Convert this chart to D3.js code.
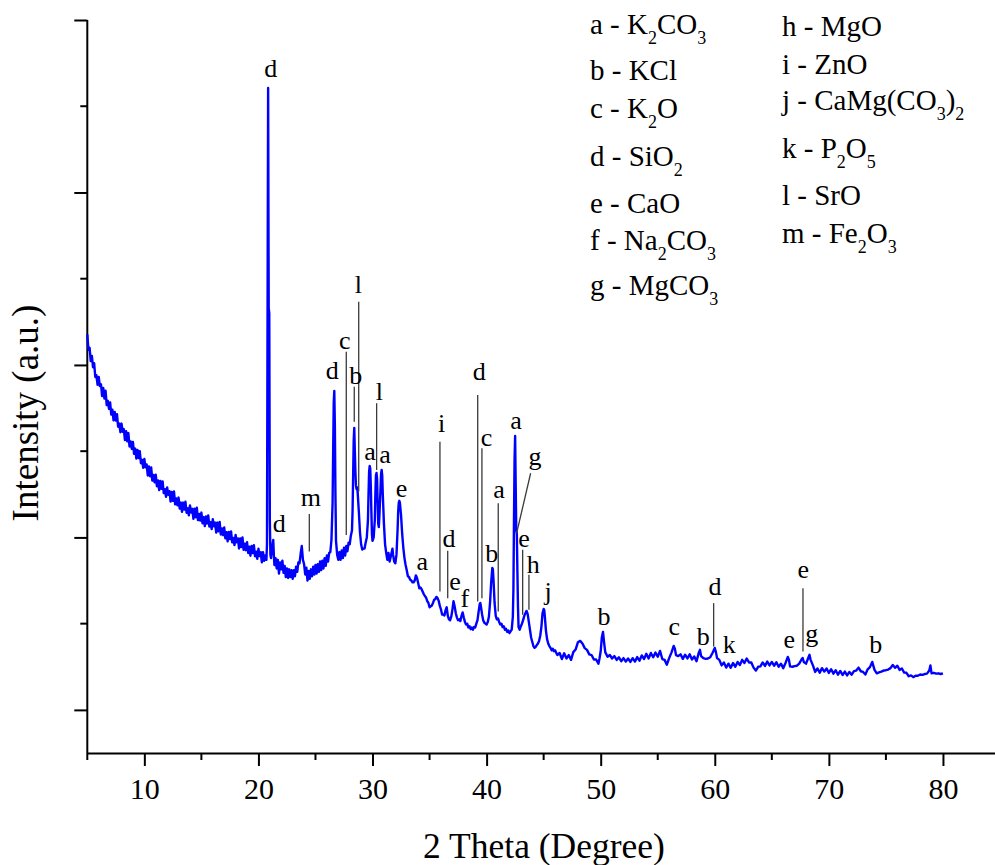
<!DOCTYPE html>
<html lang="en">

<head>
	<meta charset="utf-8">
	<script src="https://d3js.org/d3.v7.min.js"></script>
	<style>
		body {
			margin: 0;
			background-color: white;
		}

		svg {
			display: block;
			font-family: 'Times New Roman', 'Liberation Serif', serif;
		}

		.axis path,
		.axis line {
			stroke: black;
			stroke-width: 2px;
		}

		.axis text {
			font-size: 30px;
			fill: black;
		}

		.pattern {
			fill: none;
			stroke: #0000ff;
			stroke-width: 2.4px;
			stroke-linejoin: round;
		}

		.peak-label {
			font-size: 26px;
			fill: black;
			text-anchor: middle;
		}

		.peak-line {
			stroke: #3a3a3a;
			stroke-width: 1.3px;
		}

		.legend text {
			font-size: 29px;
			fill: black;
		}
	</style>
</head>

<body>
	<svg width="995" height="865"></svg>
	<script>
		// XRD pattern: [2 theta, intensity a.u.]
		const pattern = [
			[5.0, 2178], [5.1, 2088], [5.2, 2100], [5.3, 2022], [5.4, 2052], [5.5, 1987], [5.6, 2010], [5.7, 1930], [5.8, 1940], [5.9, 1885],
			[6.0, 1930], [6.1, 1877], [6.2, 1888], [6.3, 1819], [6.4, 1866], [6.5, 1805], [6.6, 1850], [6.7, 1767], [6.8, 1792], [6.9, 1745],
			[7.0, 1783], [7.1, 1712], [7.2, 1740], [7.3, 1679], [7.4, 1727], [7.5, 1677], [7.6, 1715], [7.7, 1642], [7.8, 1660], [7.9, 1610],
			[8.0, 1660], [8.1, 1612], [8.2, 1628], [8.3, 1564], [8.4, 1616], [8.5, 1557], [8.6, 1605], [8.7, 1527], [8.8, 1557], [8.9, 1513],
			[9.0, 1553], [9.1, 1485], [9.2, 1515], [9.3, 1457], [9.4, 1507], [9.5, 1460], [9.6, 1500], [9.7, 1430], [9.8, 1450], [9.9, 1403],
			[10.0, 1455], [10.1, 1407], [10.2, 1423], [10.3, 1359], [10.4, 1411], [10.5, 1355], [10.6, 1405], [10.7, 1329], [10.8, 1362], [10.9, 1320],
			[11.0, 1363], [11.1, 1297], [11.2, 1330], [11.3, 1274], [11.4, 1327], [11.5, 1282], [11.6, 1325], [11.7, 1257], [11.8, 1280], [11.9, 1235],
			[12.0, 1290], [12.1, 1247], [12.2, 1268], [12.3, 1208], [12.4, 1264], [12.5, 1212], [12.6, 1266], [12.7, 1192], [12.8, 1226], [12.9, 1186],
			[13.0, 1231], [13.1, 1167], [13.2, 1202], [13.3, 1148], [13.4, 1202], [13.5, 1161], [13.6, 1207], [13.7, 1143], [13.8, 1169], [13.9, 1128],
			[14.0, 1186], [14.1, 1144], [14.2, 1166], [14.3, 1108], [14.4, 1166], [14.5, 1116], [14.6, 1172], [14.7, 1100], [14.8, 1136], [14.9, 1098],
			[15.0, 1144], [15.1, 1082], [15.2, 1118], [15.3, 1066], [15.4, 1122], [15.5, 1081], [15.6, 1127], [15.7, 1063], [15.8, 1089], [15.9, 1048],
			[16.0, 1106], [16.1, 1064], [16.2, 1086], [16.3, 1028], [16.4, 1086], [16.5, 1035], [16.6, 1090], [16.7, 1017], [16.8, 1052], [16.9, 1013],
			[17.0, 1058], [17.1, 995], [17.2, 1030], [17.3, 977], [17.4, 1032], [17.5, 990], [17.6, 1035], [17.7, 971], [17.8, 997], [17.9, 956],
			[18.0, 1014], [18.1, 972], [18.2, 994], [18.3, 936], [18.4, 994], [18.5, 944], [18.6, 1000], [18.7, 928], [18.8, 964], [18.9, 926],
			[19.0, 972], [19.1, 910], [19.2, 946], [19.3, 894], [19.4, 950], [19.5, 909], [19.6, 955], [19.7, 891], [19.8, 917], [19.9, 876],
			[20.0, 934], [20.1, 892], [20.2, 914], [20.3, 856], [20.4, 914], [20.5, 864], [20.6, 895], [20.7, 870], [20.75, 960], [20.8, 2300],
			[20.85, 3606], [20.9, 2330], [20.95, 2300], [21.0, 1100], [21.05, 900], [21.1, 880], [21.2, 940], [21.3, 985], [21.35, 900], [21.4, 840],
			[21.5, 880], [21.6, 820], [21.7, 870], [21.8, 790], [21.9, 855], [22.0, 815], [22.1, 865], [22.2, 795], [22.3, 835], [22.4, 770],
			[22.5, 820], [22.6, 765], [22.7, 815], [22.8, 770], [22.9, 810], [23.0, 760], [23.1, 810], [23.2, 775], [23.3, 830], [23.4, 800],
			[23.5, 855], [23.6, 850], [23.7, 905], [23.8, 950], [23.9, 870], [24.0, 845], [24.1, 785], [24.2, 825], [24.3, 750], [24.4, 805],
			[24.5, 760], [24.6, 815], [24.7, 775], [24.8, 830], [24.9, 785], [25.0, 840], [25.1, 790], [25.2, 845], [25.3, 800], [25.4, 860],
			[25.5, 810], [25.6, 865], [25.7, 820], [25.8, 880], [25.9, 835], [26.0, 895], [26.1, 860], [26.2, 910], [26.3, 915], [26.4, 985],
			[26.5, 1200], [26.55, 1500], [26.6, 1780], [26.65, 1849], [26.7, 1650], [26.75, 1250], [26.8, 980], [26.9, 900], [27.0, 870], [27.1, 915],
			[27.2, 870], [27.3, 925], [27.4, 880], [27.5, 940], [27.6, 895], [27.7, 950], [27.8, 920], [27.9, 970], [28.0, 960], [28.1, 1010],
			[28.2, 1040], [28.25, 1150], [28.3, 1350], [28.35, 1560], [28.4, 1635], [28.45, 1500], [28.5, 1380], [28.55, 1300], [28.6, 1280], [28.65, 1290],
			[28.7, 1260], [28.8, 1150], [28.9, 1030], [29.0, 960], [29.1, 930], [29.2, 935], [29.3, 935], [29.4, 970], [29.5, 1000], [29.6, 1100],
			[29.65, 1250], [29.7, 1380], [29.75, 1414], [29.8, 1400], [29.85, 1300], [29.9, 1150], [29.95, 1020], [30.0, 980], [30.1, 1000], [30.2, 1100],
			[30.25, 1250], [30.3, 1360], [30.35, 1374], [30.4, 1340], [30.45, 1200], [30.5, 1080], [30.55, 1060], [30.6, 1120], [30.7, 1280], [30.75, 1370],
			[30.8, 1391], [30.85, 1360], [30.9, 1250], [31.0, 1080], [31.1, 960], [31.2, 910], [31.3, 870], [31.4, 910], [31.5, 860], [31.6, 890],
			[31.7, 920], [31.75, 935], [31.8, 900], [31.9, 860], [32.0, 850], [32.1, 900], [32.2, 1050], [32.25, 1150], [32.3, 1200], [32.35, 1212],
			[32.4, 1200], [32.5, 1130], [32.6, 1020], [32.7, 940], [32.8, 880], [32.9, 840], [33.0, 810], [33.1, 775], [33.2, 770], [33.3, 755],
			[33.4, 750], [33.5, 740], [33.6, 740], [33.7, 750], [33.8, 780], [33.9, 765], [34.0, 735], [34.1, 705], [34.2, 710], [34.3, 700],
			[34.4, 685], [34.5, 670], [34.6, 660], [34.7, 650], [34.8, 630], [34.9, 620], [35.0, 595], [35.1, 600], [35.2, 605], [35.3, 620],
			[35.4, 638], [35.5, 642], [35.6, 655], [35.7, 648], [35.8, 632], [35.9, 603], [36.0, 582], [36.1, 553], [36.2, 552], [36.3, 548],
			[36.4, 577], [36.5, 595], [36.6, 545], [36.7, 525], [36.8, 520], [36.9, 540], [37.0, 580], [37.1, 630], [37.2, 600], [37.3, 560],
			[37.4, 535], [37.5, 520], [37.6, 525], [37.7, 515], [37.8, 545], [37.9, 565], [38.0, 535], [38.1, 510], [38.2, 495], [38.3, 500],
			[38.4, 478], [38.5, 485], [38.6, 468], [38.7, 478], [38.8, 465], [38.9, 480], [39.0, 478], [39.1, 500], [39.2, 520], [39.3, 570],
			[39.4, 615], [39.45, 620], [39.5, 600], [39.6, 555], [39.7, 520], [39.8, 505], [39.9, 500], [40.0, 495], [40.1, 510], [40.2, 540],
			[40.3, 620], [40.4, 740], [40.5, 823], [40.55, 815], [40.6, 760], [40.7, 620], [40.8, 545], [40.9, 525], [41.0, 530], [41.1, 510],
			[41.2, 495], [41.3, 500], [41.4, 480], [41.5, 485], [41.6, 465], [41.7, 470], [41.8, 452], [41.9, 460], [42.0, 445], [42.1, 455],
			[42.2, 465], [42.3, 540], [42.35, 700], [42.4, 1100], [42.45, 1450], [42.5, 1588], [42.55, 1300], [42.6, 1040], [42.65, 1020], [42.7, 800],
			[42.75, 600], [42.8, 480], [42.9, 465], [43.0, 485], [43.1, 500], [43.2, 520], [43.3, 545], [43.4, 560], [43.5, 574], [43.6, 555],
			[43.7, 510], [43.8, 465], [43.9, 420], [44.0, 395], [44.1, 370], [44.2, 360], [44.3, 365], [44.4, 375], [44.5, 385], [44.6, 400],
			[44.7, 430], [44.8, 480], [44.9, 560], [45.0, 585], [45.05, 580], [45.1, 545], [45.2, 460], [45.3, 410], [45.4, 385], [45.5, 370],
			[45.6, 360], [45.7, 345], [45.8, 355], [45.9, 340], [46.0, 345], [46.2, 318], [46.4, 330], [46.6, 295], [46.8, 328], [47.0, 298],
			[47.2, 318], [47.4, 290], [47.6, 335], [47.8, 350], [48.0, 392], [48.2, 400], [48.4, 385], [48.6, 358], [48.8, 348], [49.0, 322],
			[49.2, 318], [49.4, 292], [49.6, 292], [49.8, 268], [49.9, 300], [50.0, 340], [50.1, 420], [50.2, 452], [50.3, 390], [50.4, 335],
			[50.6, 308], [50.8, 318], [51.0, 298], [51.2, 312], [51.4, 290], [51.6, 305], [51.8, 282], [52.0, 300], [52.2, 280], [52.4, 298],
			[52.6, 278], [52.8, 300], [53.0, 280], [53.2, 306], [53.4, 285], [53.6, 316], [53.8, 295], [54.0, 325], [54.2, 298], [54.4, 330],
			[54.6, 305], [54.8, 332], [55.0, 308], [55.2, 342], [55.4, 295], [55.6, 290], [55.8, 262], [56.0, 300], [56.2, 332], [56.4, 371],
			[56.5, 355], [56.6, 318], [56.8, 312], [57.0, 322], [57.2, 296], [57.4, 320], [57.6, 298], [57.8, 322], [58.0, 292], [58.2, 310],
			[58.4, 282], [58.6, 332], [58.7, 348], [58.8, 312], [59.0, 300], [59.2, 296], [59.4, 298], [59.6, 305], [59.8, 330], [60.0, 359],
			[60.1, 335], [60.2, 300], [60.4, 290], [60.6, 258], [60.8, 275], [61.0, 245], [61.2, 268], [61.4, 244], [61.6, 272], [61.8, 250],
			[62.0, 278], [62.2, 260], [62.4, 290], [62.6, 272], [62.8, 298], [63.0, 275], [63.2, 275], [63.4, 245], [63.6, 228], [63.8, 250],
			[64.0, 252], [64.2, 275], [64.4, 255], [64.6, 280], [64.8, 258], [65.0, 278], [65.2, 256], [65.4, 276], [65.6, 250], [65.8, 268],
			[66.0, 242], [66.2, 272], [66.4, 307], [66.5, 290], [66.6, 252], [66.8, 250], [67.0, 254], [67.2, 256], [67.4, 268], [67.6, 292],
			[67.7, 301], [67.8, 278], [68.0, 268], [68.2, 302], [68.3, 319], [68.4, 290], [68.6, 258], [68.8, 220], [69.0, 240], [69.2, 216],
			[69.4, 242], [69.6, 222], [69.8, 240], [70.0, 214], [70.2, 236], [70.4, 210], [70.6, 230], [70.8, 204], [71.0, 226], [71.2, 202],
			[71.4, 222], [71.6, 200], [71.8, 220], [72.0, 204], [72.2, 225], [72.4, 228], [72.6, 245], [72.8, 224], [73.0, 220], [73.2, 205],
			[73.4, 235], [73.6, 248], [73.8, 278], [73.9, 255], [74.0, 232], [74.2, 212], [74.4, 218], [74.6, 222], [74.8, 228], [75.0, 230],
			[75.2, 234], [75.4, 242], [75.6, 260], [75.8, 244], [76.0, 256], [76.2, 232], [76.4, 240], [76.6, 216], [76.8, 215], [77.0, 195],
			[77.2, 200], [77.4, 190], [77.6, 198], [77.8, 198], [78.0, 205], [78.2, 203], [78.4, 208], [78.6, 210], [78.8, 228], [78.9, 258],
			[79.0, 212], [79.2, 215], [79.4, 210], [79.6, 212], [79.8, 208], [80.0, 212]
		];

		// peak letters: [letter, 2 theta, intensity of text baseline]
		const peakLabels = [
			["d", 21.07, 3670], ["d", 21.83, 1034], ["m", 24.6, 1183], ["d", 26.47, 1917],
			["c", 27.56, 2091], ["b", 28.52, 1890], ["l", 28.75, 2416], ["a", 29.78, 1449],
			["l", 30.59, 1797], ["a", 31.09, 1430], ["e", 32.55, 1233], ["a", 34.36, 812],
			["i", 36.06, 1613], ["d", 36.7, 947], ["e", 37.23, 695], ["f", 38.1, 599],
			["d", 39.36, 1913], ["c", 40.0, 1530], ["a", 41.08, 1227], ["b", 40.44, 860],
			["a", 42.57, 1627], ["g", 44.24, 1420], ["e", 43.27, 947], ["h", 44.09, 792],
			["j", 45.4, 638], ["b", 50.29, 493], ["c", 56.45, 435], ["b", 58.99, 377],
			["d", 60.01, 667], ["k", 61.27, 329], ["e", 66.53, 358], ["e", 67.75, 763],
			["g", 68.49, 396], ["b", 74.12, 329]
		];

		// leader lines: [2 theta start, intensity start, 2 theta end, intensity end]
		const peakLines = [
			[24.46, 1136, 24.46, 918], [27.7, 2077, 27.7, 1014], [28.4, 1874, 28.4, 1671],
			[28.79, 2367, 28.79, 1266], [30.36, 1778, 30.36, 1391], [35.91, 1555, 35.91, 686],
			[36.59, 923, 36.59, 647], [39.22, 1826, 39.22, 628], [39.59, 1517, 39.59, 647],
			[41.02, 1198, 41.02, 570], [43.86, 1372, 42.63, 1024], [43.16, 928, 43.16, 551],
			[43.71, 783, 43.71, 580], [59.9, 619, 59.9, 367], [67.73, 705, 67.73, 338]
		];

		// phase key, "_n" marks a subscript
		const legendLeft = ["a - K_2CO_3", "b - KCl", "c - K_2O", "d - SiO_2", "e - CaO", "f - Na_2CO_3", "g - MgCO_3"];
		const legendRight = ["h - MgO", "i - ZnO", "j - CaMg(CO_3)_2", "k - P_2O_5", "l - SrO", "m - Fe_2O_3"];

		const xTickLabels = [10, 20, 30, 40, 50, 60, 70, 80];
		const xMinorTicks = [5, 15, 25, 35, 45, 55, 65, 75, 85];
		const yMajorTicks = [0, 1000, 2000, 3000, 4000];
		const yMinorTicks = [500, 1500, 2500, 3500];

		// layout
		const serif = "'Times New Roman', 'Liberation Serif', serif";
		const legendLeftY = [34, 80, 118, 166, 213, 250, 295];
		const legendRightY = [36, 74, 110, 158, 205, 243];

		const svg = d3.select("svg");
		const x = d3.scaleLinear().domain([5, 85]).range([87.3, 1000]);
		const y = d3.scaleLinear().domain([-250, 4000]).range([753, 20]);

		// axes
		const xAxis = svg.append("g").attr("class", "axis")
			.attr("transform", "translate(0,753)")
			.call(d3.axisBottom(x).tickValues(xTickLabels).tickSize(13).tickSizeOuter(0).tickPadding(12));
		xAxis.attr("font-family", serif).attr("font-size", null);
		xAxis.selectAll("text").attr("font-family", serif);
		xAxis.selectAll(".minor").data(xMinorTicks).enter().append("line")
			.attr("class", "minor")
			.attr("x1", d => x(d)).attr("x2", d => x(d))
			.attr("y1", 0).attr("y2", 7);

		const yAxis = svg.append("g").attr("class", "axis")
			.attr("transform", "translate(87.3,0)")
			.call(d3.axisLeft(y).tickValues(yMajorTicks).tickSize(13).tickSizeOuter(0).tickFormat(""));
		yAxis.selectAll(".minor").data(yMinorTicks).enter().append("line")
			.attr("class", "minor")
			.attr("y1", d => y(d)).attr("y2", d => y(d))
			.attr("x1", 0).attr("x2", -7);
		yAxis.select(".domain").attr("d", "M0," + y(4000) + "V753");
		yAxis.selectAll("text").remove();

		// pattern
		const line = d3.line().x(d => x(d[0])).y(d => y(d[1]));
		svg.append("path").datum(pattern).attr("class", "pattern").attr("d", line);

		// peak annotations
		svg.append("g").selectAll("line").data(peakLines).enter().append("line")
			.attr("class", "peak-line")
			.attr("x1", d => x(d[0])).attr("y1", d => y(d[1]))
			.attr("x2", d => x(d[2])).attr("y2", d => y(d[3]));
		svg.append("g").selectAll("text").data(peakLabels).enter().append("text")
			.attr("class", "peak-label")
			.attr("x", d => x(d[1])).attr("y", d => y(d[2]))
			.text(d => d[0]);

		// legend with subscripts
		const writeFormula = function (sel, label) {
			let lowered = false;
			label.split(/(_\d)/).filter(s => s.length).forEach(part => {
				const span = sel.append("tspan");
				if (part[0] === "_") {
					span.attr("font-size", "18px").attr("dy", lowered ? 0 : 10).text(part[1]);
					lowered = true;
				} else {
					span.attr("dy", lowered ? -10 : null).text(part);
					lowered = false;
				}
			});
		}
		const legend = svg.append("g").attr("class", "legend");
		legendLeft.forEach((s, i) => writeFormula(legend.append("text").attr("x", 590).attr("y", legendLeftY[i]), s));
		legendRight.forEach((s, i) => writeFormula(legend.append("text").attr("x", 782).attr("y", legendRightY[i]), s));

		// titles
		svg.append("text")
			.attr("x", 544).attr("y", 858).attr("text-anchor", "middle")
			.attr("font-size", "35.5px")
			.text("2 Theta (Degree)");
		svg.append("text")
			.attr("transform", "translate(38,413) rotate(-90)").attr("text-anchor", "middle")
			.attr("font-size", "37px")
			.text("Intensity (a.u.)");
	</script>
</body>

</html>
